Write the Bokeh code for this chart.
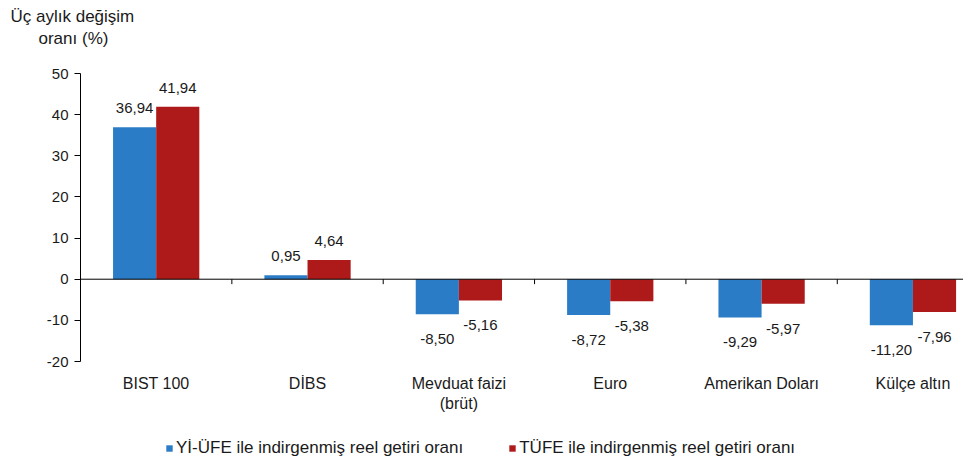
from bokeh.plotting import figure
from bokeh.models import (ColumnDataSource, Range1d, FixedTicker, Span, Title,
                          Legend, LegendItem)
from bokeh.core.properties import value
from bokeh.embed import file_html
from bokeh.resources import INLINE

categories = ["BIST 100", "DİBS", "Mevduat faizi\n(brüt)", "Euro", "Amerikan Doları", "Külçe altın"]
yi_ufe = [36.94, 0.95, -8.50, -8.72, -9.29, -11.20]
tufe = [41.94, 4.64, -5.16, -5.38, -5.97, -7.96]
series_names = ["Yİ-ÜFE ile indirgenmiş reel getiri oranı", "TÜFE ile indirgenmiş reel getiri oranı"]
y_ticks = [-20, -10, 0, 10, 20, 30, 40, 50]
y_title_lines = ["Üç aylık değişim", "oranı (%)"]

BLUE = "#2B7CC6"
RED = "#AE1A1A"
FONT = "Liberation Sans"
TXT = "#1a1a1a"

n = len(categories)
centers = [i + 0.5 for i in range(n)]
boundaries = [i for i in range(1, n)]
bw = 0.285

def fmt(v):
    return ("%.2f" % v).replace(".", ",")

def src(vals, shift):
    return ColumnDataSource(dict(
        x=[c + shift for c in centers],
        top=vals,
        lbl=[fmt(v) for v in vals],
        off=[-19 if v >= 0 else 25 for v in vals],
    ))

s1 = src(yi_ufe, -bw / 2)
s2 = src(tufe, bw / 2)
cat_src = ColumnDataSource(dict(x=centers, y=[y_ticks[0]] * n, t=categories))

# frame: 50 at top of frame, extra room below -20 for category labels and legend
px_per_unit = 288 / (y_ticks[-1] - y_ticks[0])
y_start = y_ticks[0] - 97 / px_per_unit

p = figure(width=963, height=458, output_backend="svg", toolbar_location=None,
           x_range=Range1d(0, 5.834), y_range=Range1d(y_start, y_ticks[-1]),
           min_border_left=80, min_border_top=73, min_border_bottom=0, min_border_right=0)
p.outline_line_color = None
p.xgrid.visible = False
p.ygrid.visible = False
p.xaxis.visible = False
p.background_fill_color = "white"
p.border_fill_color = "white"

r1 = p.vbar(x="x", top="top", bottom=0, width=bw, source=s1, fill_color=BLUE, line_color=None)
r2 = p.vbar(x="x", top="top", bottom=0, width=bw, source=s2, fill_color=RED, line_color=None)

for s in (s1, s2):
    p.text(x="x", y="top", text="lbl", y_offset="off", source=s,
           text_align="center", text_baseline="middle",
           text_font=value(FONT), text_font_size="15px", text_color=TXT)

# category labels under the -20 level
p.text(x="x", y="y", text="t", y_offset=13, source=cat_src,
       text_align="center", text_baseline="top", text_line_height=1.2,
       text_font=value(FONT), text_font_size="16px", text_color=TXT)

p.add_layout(Span(location=0, dimension="width", line_color="black", line_width=1))
p.segment(x0=boundaries, x1=boundaries, y0=[0] * len(boundaries), y1=[-1.2] * len(boundaries),
          line_color="black", line_width=1)

ya = p.yaxis[0]
ya.ticker = FixedTicker(ticks=y_ticks)
ya.bounds = (y_ticks[0], y_ticks[-1])
ya.major_label_overrides = {t: str(t) for t in y_ticks}
ya.axis_line_color = "black"
ya.major_tick_line_color = "black"
ya.major_tick_out = 6
ya.major_tick_in = 0
ya.minor_tick_line_color = None
ya.major_label_standoff = 6
ya.major_label_text_font = FONT
ya.major_label_text_font_size = "15px"
ya.major_label_text_color = TXT

# spacer nearest the frame, then the two title lines
p.add_layout(Title(text=" ", standoff=5, text_font=FONT, text_font_size="17px"), "above")
p.add_layout(Title(text=y_title_lines[1], align="left", offset=-42, standoff=0,
                   text_font=FONT, text_font_size="17px", text_font_style="normal",
                   text_color=TXT), "above")
p.add_layout(Title(text=y_title_lines[0], align="left", offset=-70, standoff=2,
                   text_font=FONT, text_font_size="17px", text_font_style="normal",
                   text_color=TXT), "above")

legend = Legend(items=[LegendItem(label=series_names[0], renderers=[r1]),
                       LegendItem(label=series_names[1], renderers=[r2])],
                orientation="horizontal", location=(85, 0),
                glyph_width=8, glyph_height=8, label_standoff=3, spacing=45,
                label_text_font=FONT, label_text_font_size="17px", label_text_color=TXT,
                border_line_color=None, background_fill_alpha=0, padding=2, margin=0)
p.add_layout(legend, "center")

open("out.html", "w").write(file_html(p, INLINE))
